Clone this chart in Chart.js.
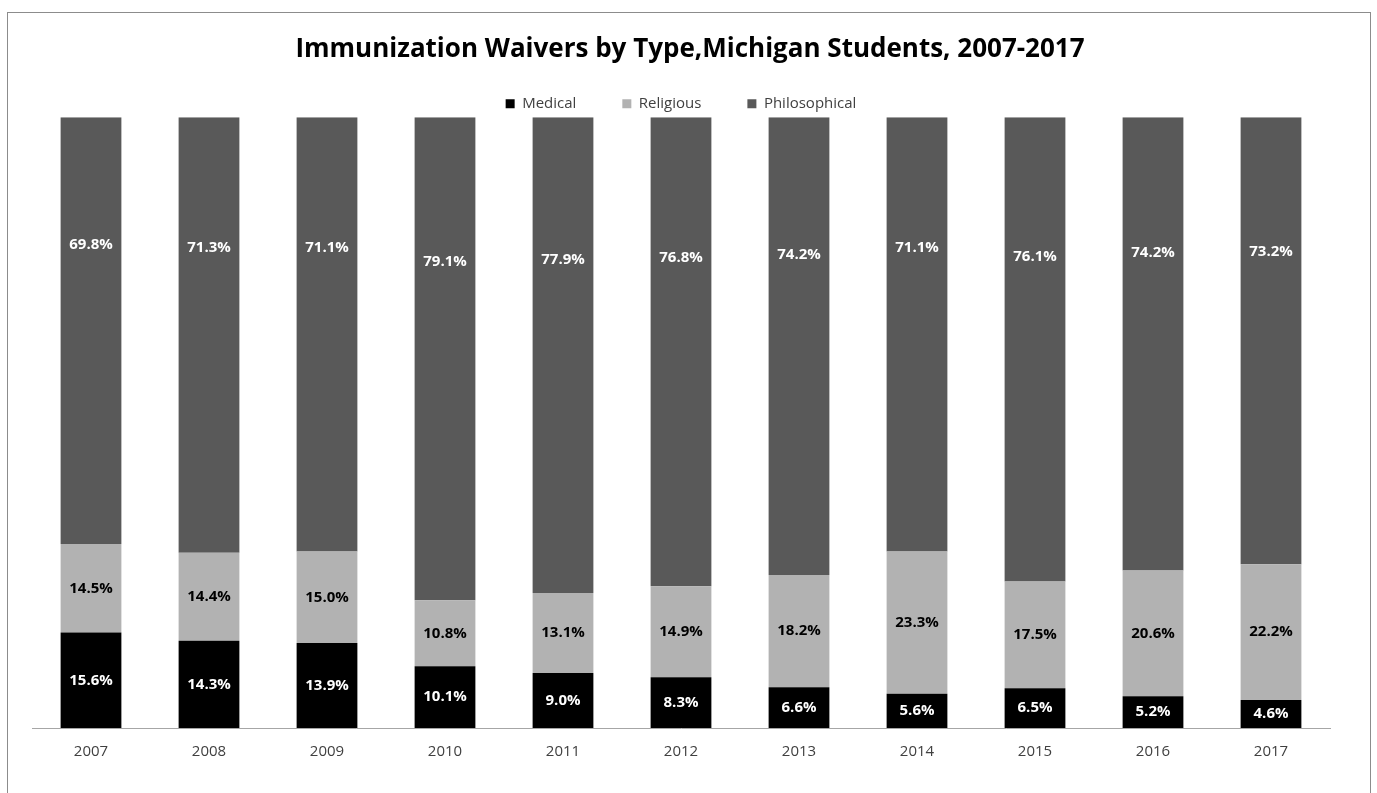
<!DOCTYPE html>
<html lang="en">
<head>
    <meta charset="UTF-8">
    <title>Immunization Waivers</title>
    <style>
        body{
            margin:0;
            background:#ffffff;
        }
        .frame{
            position:absolute;
            left:7px;
            top:12px;
            width:1362px;
            height:820px;
            border:1px solid #8c8c8c;
        }
        #chart{
            position:absolute;
            left:0;
            top:0;
        }
    </style>
</head>
<body>
    <div class="frame"></div>
    <canvas id="chart" width="1377" height="793"></canvas>

    <script src="https://cdn.jsdelivr.net/npm/chart.js"></script>
    <script>
        // data
        var years = ['2007','2008','2009','2010','2011','2012','2013','2014','2015','2016','2017']
        var medical = [15.6, 14.3, 13.9, 10.1, 9.0, 8.3, 6.6, 5.6, 6.5, 5.2, 4.6]
        var religious = [14.5, 14.4, 15.0, 10.8, 13.1, 14.9, 18.2, 23.3, 17.5, 20.6, 22.2]
        var philosophical = [69.8, 71.3, 71.1, 79.1, 77.9, 76.8, 74.2, 71.1, 76.1, 74.2, 73.2]

        var fontName = 'Open Sans'

        // 100% stacked: each bar is scaled so its parts fill the column
        var share = function(arr){
            return arr.map(function(v, i){
                return v / (medical[i] + religious[i] + philosophical[i]) * 100
            })
        }

        // draws the percent inside each segment
        var segmentLabels = {
            id: 'segmentLabels',
            afterDatasetsDraw: function(chart){
                var ctx = chart.ctx
                ctx.save()
                ctx.font = 'bold 15px ' + fontName
                ctx.textAlign = 'center'
                ctx.textBaseline = 'middle'
                chart.data.datasets.forEach(function(ds, di){
                    var meta = chart.getDatasetMeta(di)
                    meta.data.forEach(function(bar, i){
                        var y = (bar.y + bar.base) / 2
                        if (di == 2) y = bar.base - (bar.base - bar.y) * 0.70
                        ctx.fillStyle = ds.labelColor
                        ctx.fillText(ds.raw[i].toFixed(1) + '%', bar.x, y)
                    })
                })
                ctx.restore()
            }
        }

        // small shifts so title and legend sit where the original had them
        var nudge = {
            id: 'nudge',
            afterLayout: function(chart){
                chart.titleBlock.left += 9
                chart.titleBlock.right += 9
                chart.legend.top += 4
                chart.legend.bottom += 4
            }
        }

        var ctx = document.getElementById('chart')
        var myChart = new Chart(ctx, {
            type: 'bar',
            data: {
                labels: years,
                datasets: [
                    { label: 'Medical', data: share(medical), raw: medical, backgroundColor: '#000000', labelColor: '#ffffff' },
                    { label: 'Religious', data: share(religious), raw: religious, backgroundColor: '#b2b2b2', labelColor: '#000000' },
                    { label: 'Philosophical', data: share(philosophical), raw: philosophical, backgroundColor: '#595959', labelColor: '#ffffff' }
                ]
            },
            options: {
                responsive: false,
                animation: false,
                datasets: {
                    bar: { barPercentage: 0.515, categoryPercentage: 1.0 }
                },
                layout: {
                    padding: { left: 32, right: 47, top: 0, bottom: 25 }
                },
                plugins: {
                    title: {
                        display: true,
                        text: 'Immunization Waivers by Type,Michigan Students, 2007-2017',
                        color: '#000000',
                        font: { family: fontName, size: 26, weight: 'bold' },
                        padding: { top: 34, bottom: -19 }
                    },
                    legend: {
                        display: true,
                        labels: {
                            boxWidth: 9,
                            boxHeight: 9,
                            padding: 46,
                            color: '#404040',
                            font: { family: fontName, size: 15 }
                        }
                    },
                    tooltip: { enabled: false }
                },
                scales: {
                    x: {
                        stacked: true,
                        grid: { display: false },
                        border: { display: true, color: '#a6a6a6', width: 1 },
                        ticks: {
                            color: '#404040',
                            padding: 7,
                            font: { family: fontName, size: 15 }
                        }
                    },
                    y: {
                        stacked: true,
                        display: false,
                        min: 0,
                        max: 100
                    }
                }
            },
            plugins: [segmentLabels, nudge]
        })
    </script>
</body>
</html>
